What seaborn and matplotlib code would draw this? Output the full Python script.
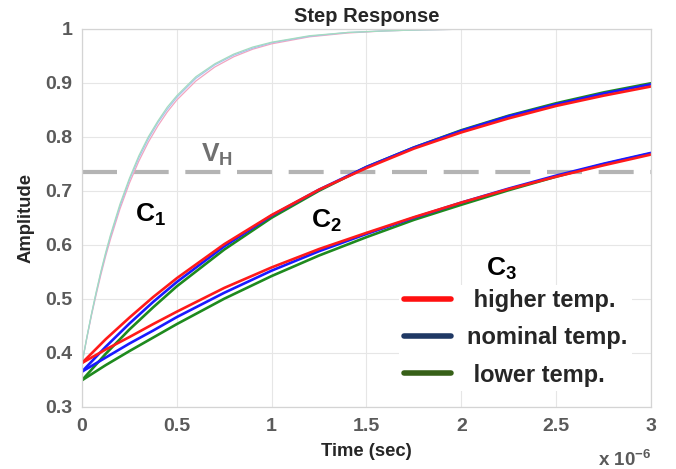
import numpy as np
import pandas as pd
import matplotlib
matplotlib.use('Agg')
import matplotlib.pyplot as plt
from matplotlib.lines import Line2D
import seaborn as sns

# time axis in units of 1e-6 s
t_fast = [0, 0.025, 0.05, 0.075, 0.1, 0.125, 0.15, 0.2, 0.25, 0.3, 0.35, 0.4, 0.45, 0.5,
          0.6, 0.7, 0.8, 0.9, 1.0, 1.2, 1.4, 1.6, 1.8, 2.0]
c1_high = [0.380, 0.426, 0.469, 0.508, 0.545, 0.579, 0.610, 0.666, 0.714, 0.755, 0.790, 0.820,
           0.846, 0.868, 0.903, 0.929, 0.948, 0.962, 0.972, 0.985, 0.992, 0.996, 0.998, 0.999]
c1_nom = [0.380, 0.427, 0.471, 0.511, 0.549, 0.583, 0.615, 0.671, 0.720, 0.761, 0.796, 0.826,
          0.851, 0.873, 0.908, 0.933, 0.951, 0.964, 0.974, 0.986, 0.993, 0.996, 0.998, 0.999]
c1_low = [0.380, 0.428, 0.472, 0.513, 0.551, 0.586, 0.618, 0.675, 0.723, 0.765, 0.800, 0.829,
          0.855, 0.876, 0.911, 0.935, 0.953, 0.966, 0.975, 0.987, 0.993, 0.996, 0.998, 0.999]

t_slow = [0, 0.125, 0.25, 0.375, 0.5, 0.75, 1.0, 1.25, 1.5, 1.75, 2.0, 2.25, 2.5, 2.75, 3.0]
c2_high = [0.381, 0.425, 0.465, 0.503, 0.538, 0.601, 0.655, 0.702, 0.742, 0.778, 0.808, 0.834, 0.857, 0.876, 0.893]
c2_nom = [0.365, 0.411, 0.454, 0.494, 0.531, 0.597, 0.654, 0.702, 0.744, 0.780, 0.811, 0.838, 0.860, 0.880, 0.897]
c2_low = [0.349, 0.398, 0.443, 0.484, 0.523, 0.591, 0.650, 0.700, 0.744, 0.780, 0.812, 0.839, 0.862, 0.882, 0.899]

c3_high = [0.381, 0.406, 0.429, 0.453, 0.476, 0.520, 0.558, 0.592, 0.622, 0.651, 0.678, 0.703, 0.726, 0.747, 0.767]
c3_nom = [0.365, 0.391, 0.417, 0.441, 0.466, 0.511, 0.552, 0.588, 0.620, 0.650, 0.678, 0.704, 0.728, 0.750, 0.770]
c3_low = [0.349, 0.377, 0.403, 0.428, 0.453, 0.500, 0.542, 0.580, 0.614, 0.646, 0.674, 0.701, 0.726, 0.749, 0.769]

v_h = 0.734
legend_labels = [' higher temp.', 'nominal temp.', ' lower temp.']

sns.set_theme(style='whitegrid')
plt.rcParams['font.family'] = ['Liberation Sans', 'DejaVu Sans']
plt.rcParams['mathtext.fontset'] = 'custom'
plt.rcParams['mathtext.rm'] = 'Liberation Sans'
plt.rcParams['mathtext.bf'] = 'Liberation Sans:bold'

fig = plt.figure(figsize=(6.76, 4.69), dpi=100)
ax = fig.add_axes([0.1213, 0.1328, 0.8417, 0.806])

# faded fast curves (C1)
for y, col in [(c1_high, '#f2a4c0'), (c1_nom, '#a6c4ec'), (c1_low, '#a4dcc0')]:
    sns.lineplot(x=t_fast, y=y, color=col, linewidth=0.9, ax=ax)

ax.axhline(v_h, color='#b4b4b4', linewidth=3.0, dashes=(8.4, 4.0), zorder=1)

for y, col in [(c2_low, '#1e8a1e'), (c2_nom, '#1a1aff'), (c2_high, '#ff1a1a'),
               (c3_low, '#1e8a1e'), (c3_nom, '#1a1aff'), (c3_high, '#ff1a1a')]:
    sns.lineplot(x=t_slow, y=y, color=col, linewidth=1.9, ax=ax)

ax.set_xlim(0, 3)
ax.set_ylim(0.3, 1.0)
ax.set_xticks([0, 0.5, 1, 1.5, 2, 2.5, 3])
ax.set_yticks([0.3, 0.4, 0.5, 0.6, 0.7, 0.8, 0.9, 1.0])
ax.set_xticklabels(['0', '0.5', '1', '1.5', '2', '2.5', '3'])
ax.set_yticklabels(['0.3', '0.4', '0.5', '0.6', '0.7', '0.8', '0.9', '1'])
ax.tick_params(axis='both', labelsize=14, labelcolor='#5a5a5a', length=3,
               color='#cccccc')
ax.tick_params(axis='x', pad=5)
ax.tick_params(axis='y', pad=4)
for lab in ax.get_xticklabels() + ax.get_yticklabels():
    lab.set_fontweight('bold')
ax.grid(True, color='#e6e6e6', linewidth=0.8)
for s in ax.spines.values():
    s.set_color('#d4d4d4')
    s.set_linewidth(0.9)

ax.set_title('Step Response', fontsize=14.5, fontweight='bold', pad=5)
ax.set_xlabel('Time (sec)', fontsize=13.3, fontweight='bold', labelpad=6)
ax.set_ylabel('Amplitude', fontsize=13.3, fontweight='bold', labelpad=8)
ax.text(1.0, -0.14, r'x 10$^{\mathbf{-6}}$', transform=ax.transAxes, ha='right',
        va='center', fontsize=13.5, fontweight='bold', color='#5a5a5a')

ax.text(0.36, 0.655, r'$\mathbf{C_1}$', fontsize=19, ha='center', va='center', color='black', zorder=7)
ax.text(1.29, 0.645, r'$\mathbf{C_2}$', fontsize=19, ha='center', va='center', color='black', zorder=7)
ax.text(2.21, 0.556, r'$\mathbf{C_3}$', fontsize=19, ha='center', va='center', color='black', zorder=7)
ax.text(0.71, 0.766, r'$\mathbf{V_H}$', fontsize=19, ha='center', va='center', color='#707070', zorder=7)

handles = [Line2D([], [], color='#ff1010', linewidth=4),
           Line2D([], [], color='#1f3864', linewidth=4),
           Line2D([], [], color='#376018', linewidth=4)]
leg = ax.legend(handles, legend_labels, loc='center', bbox_to_anchor=(0.762, 0.182),
                frameon=True, framealpha=1, edgecolor='white',
                handlelength=2.0, labelspacing=0.6, handletextpad=0.65, borderpad=0.2,
                prop={'weight': 'bold', 'size': 17})
leg.get_frame().set_linewidth(0)
leg.set_zorder(5)

fig.savefig('out.png', dpi=100)
